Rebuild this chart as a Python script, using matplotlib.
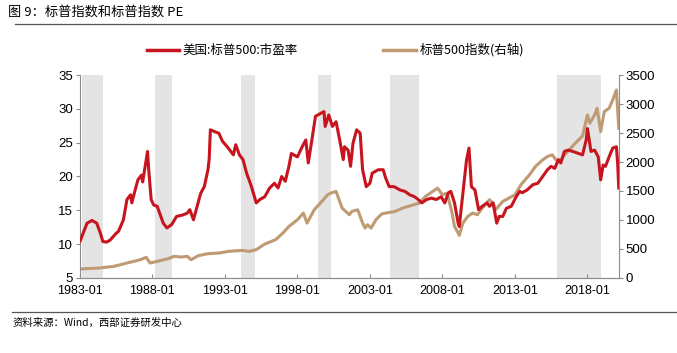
import pandas as pd
import matplotlib.pyplot as plt

plt.rcParams['font.family'] = ['Liberation Sans', 'Noto Sans CJK SC', 'DejaVu Sans']

# 美国:标普500:市盈率 (左轴)
pe_dates = ["1983-01", "1983-07", "1983-11", "1984-03", "1984-06", "1984-08", "1984-11", "1985-02",
            "1985-07", "1985-09", "1986-01", "1986-04", "1986-07", "1986-08", "1986-10", "1987-01",
            "1987-04", "1987-05", "1987-08", "1987-09", "1987-10", "1987-12", "1988-02", "1988-05",
            "1988-07", "1988-10", "1989-01", "1989-05", "1989-09", "1990-02", "1990-06", "1990-08",
            "1990-11", "1991-02", "1991-05", "1991-08", "1991-11", "1991-12", "1992-01", "1992-05",
            "1992-08", "1992-11", "1993-03", "1993-08", "1993-10", "1994-01", "1994-04", "1994-07",
            "1994-11", "1995-03", "1995-06", "1995-10", "1996-02", "1996-06", "1996-09", "1996-12",
            "1997-03", "1997-06", "1997-08", "1998-01", "1998-05", "1998-08", "1998-10", "1999-01",
            "1999-04", "1999-08", "1999-11", "1999-12", "2000-03", "2000-06", "2000-09", "2000-12",
            "2001-03", "2001-04", "2001-07", "2001-09", "2001-11", "2002-02", "2002-05", "2002-07",
            "2002-10", "2003-01", "2003-03", "2003-08", "2003-12", "2004-02", "2004-05", "2004-09",
            "2005-02", "2005-06", "2005-10", "2006-02", "2006-05", "2006-08", "2006-12", "2007-04",
            "2007-08", "2007-12", "2008-03", "2008-06", "2008-08", "2008-11", "2009-02", "2009-03",
            "2009-06", "2009-09", "2009-11", "2010-01", "2010-04", "2010-07", "2010-10", "2011-02",
            "2011-04", "2011-07", "2011-10", "2011-12", "2012-03", "2012-06", "2012-10", "2013-02",
            "2013-05", "2013-07", "2013-11", "2014-04", "2014-08", "2014-12", "2015-04", "2015-07",
            "2015-10", "2016-01", "2016-03", "2016-06", "2016-09", "2017-01", "2017-06", "2017-09",
            "2017-12", "2018-01", "2018-04", "2018-07", "2018-10", "2018-12", "2019-02", "2019-04",
            "2019-07", "2019-10", "2020-01", "2020-02", "2020-03"]
pe_values = [10.4, 13.1, 13.5, 13.1, 11.6, 10.4, 10.3, 10.6,
             11.6, 11.9, 13.6, 16.6, 17.3, 16.1, 17.5, 19.5,
             20.2, 19.2, 22.5, 23.7, 21.0, 16.6, 15.8, 15.6,
             14.6, 13.1, 12.4, 12.9, 14.1, 14.3, 14.6, 15.1,
             13.6, 15.6, 17.5, 18.5, 21.0, 22.5, 26.9, 26.6,
             26.4, 25.2, 24.4, 23.2, 24.7, 23.2, 22.5, 20.5,
             18.5, 16.1, 16.6, 17.0, 18.3, 19.0, 18.3, 20.0,
             19.3, 21.5, 23.4, 22.9, 24.4, 25.4, 22.0, 25.4,
             28.9, 29.3, 29.6, 27.4, 29.1, 27.4, 28.1, 25.4,
             22.5, 24.4, 23.9, 21.5, 24.9, 26.9, 26.4, 21.0,
             18.5, 19.0, 20.5, 21.0, 21.0, 19.8, 18.5, 18.5,
             18.0, 17.8, 17.3, 17.0, 16.6, 16.1, 16.6, 16.8,
             16.6, 17.0, 16.1, 17.6, 17.8, 16.1, 13.1, 12.6,
             17.6, 22.5, 24.2, 18.5, 18.0, 15.1, 15.6, 16.1,
             15.6, 16.1, 13.1, 14.1, 14.1, 15.3, 15.6, 17.0,
             17.8, 17.6, 18.0, 18.8, 19.0, 20.0, 21.0, 21.5,
             21.2, 22.5, 22.0, 23.7, 23.9, 23.7, 23.4, 23.2,
             25.4, 27.1, 23.7, 23.9, 22.9, 19.5, 21.7, 21.5,
             22.9, 24.2, 24.4, 22.0, 18.3]

# 标普500指数 (右轴)
idx_dates = ["1983-01", "1984-05", "1985-05", "1986-04", "1987-03", "1987-08", "1987-11", "1988-05",
             "1989-02", "1989-07", "1990-01", "1990-06", "1990-09", "1991-03", "1991-11", "1992-08",
             "1993-04", "1994-03", "1994-09", "1995-03", "1995-10", "1996-07", "1997-01", "1997-06",
             "1998-01", "1998-06", "1998-09", "1999-03", "1999-08", "2000-02", "2000-06", "2000-09",
             "2001-02", "2001-08", "2001-10", "2002-03", "2002-07", "2002-09", "2002-11", "2003-02",
             "2003-06", "2003-11", "2004-05", "2004-10", "2005-04", "2006-01", "2006-06", "2006-11",
             "2007-05", "2007-09", "2008-01", "2008-05", "2008-09", "2008-11", "2009-02", "2009-03",
             "2009-06", "2009-10", "2010-02", "2010-06", "2010-10", "2011-04", "2011-07", "2011-09",
             "2012-03", "2012-08", "2013-01", "2013-06", "2014-01", "2014-06", "2014-12", "2015-04",
             "2015-08", "2015-11", "2016-02", "2016-05", "2016-10", "2017-03", "2017-09", "2018-01",
             "2018-03", "2018-07", "2018-09", "2018-12", "2019-03", "2019-07", "2019-10", "2020-01",
             "2020-03"]
idx_values = [155, 172, 200, 258, 315, 356, 258, 287,
              333, 373, 361, 373, 315, 384, 419, 430,
              459, 476, 459, 488, 585, 660, 775, 889,
              1004, 1119, 947, 1176, 1291, 1435, 1475, 1492,
              1205, 1090, 1148, 1176, 947, 861, 918, 861,
              1004, 1107, 1130, 1148, 1205, 1262, 1291, 1406,
              1492, 1549, 1435, 1463, 1119, 889, 775, 735,
              947, 1062, 1119, 1090, 1205, 1348, 1291, 1176,
              1320, 1377, 1435, 1607, 1779, 1922, 2037, 2094,
              2123, 2037, 2008, 2094, 2209, 2324, 2450, 2812,
              2668, 2812, 2926, 2525, 2869, 2926, 3070, 3242,
              2582]

# 阴影区间
shade_start = ["1983-03", "1988-03", "1994-02", "1999-06", "2004-06", "2015-12"]
shade_end = ["1984-08", "1989-05", "1995-02", "2000-05", "2006-06", "2018-12"]

tick_labels = ["1983-01", "1988-01", "1993-01", "1998-01", "2003-01", "2008-01", "2013-01", "2018-01"]

red = '#C8141E'
tan = '#BF9A72'
axis_gray = '#8C8C8C'

fig = plt.figure(figsize=(6.77, 3.53), dpi=100)
ax = fig.add_axes([0.118, 0.2125, 0.796, 0.575])
ax2 = ax.twinx()

# 阴影和指数画在下层的ax2, 市盈率画在上层的ax
for s, e in zip(shade_start, shade_end):
    ax2.axvspan(pd.Timestamp(s), pd.Timestamp(e), color='#E4E4E4', lw=0, zorder=0)
ax2.plot(pd.to_datetime(idx_dates), idx_values, color=tan, lw=2.2, zorder=2)
ax.plot(pd.to_datetime(pe_dates), pe_values, color=red, lw=2.2, zorder=3)
ax.set_zorder(1)
ax2.set_zorder(0)
ax.patch.set_visible(False)

ax.set_xlim(pd.Timestamp("1983-01"), pd.Timestamp("2020-03"))
ax.set_ylim(5, 35)
ax2.set_ylim(0, 3500)
ax.set_yticks(range(5, 36, 5))
ax2.set_yticks(range(0, 3501, 500))
ax.set_xticks(pd.to_datetime(tick_labels))
ax.set_xticklabels(tick_labels)

for a in (ax, ax2):
    a.spines['top'].set_visible(False)
    for sp in ('left', 'right', 'bottom'):
        a.spines[sp].set_color(axis_gray)
    a.tick_params(axis='y', length=3, color=axis_gray, labelsize=9.5, pad=2)
ax.spines['right'].set_visible(False)
ax2.spines['left'].set_visible(False)
ax.tick_params(axis='x', direction='in', length=3, color=axis_gray, labelsize=9, pad=5)

# 图例
fig.legend(handles=[plt.Line2D([], [], color=red, lw=2.5), plt.Line2D([], [], color=tan, lw=2.5)],
           labels=['美国:标普500:市盈率', '标普500指数(右轴)'],
           loc='center left', bbox_to_anchor=(0.2, 0.858), ncol=2, frameon=False,
           handlelength=2.6, handletextpad=0.3, columnspacing=6.8,
           prop={'family': ['Noto Sans CJK SC', 'DejaVu Sans'], 'size': 9})

fig.text(0.012, 0.965, '图 9：标普指数和标普指数 PE', fontsize=9.5, va='center',
         family=['Noto Sans CJK SC', 'DejaVu Sans'])
fig.add_artist(plt.Line2D([0.022, 1.0], [0.933, 0.933], color='#555555', lw=0.9))
fig.add_artist(plt.Line2D([0.018, 1.0], [0.117, 0.117], color='#555555', lw=0.9))
fig.text(0.018, 0.085, '资料来源：Wind，西部证券研发中心', fontsize=7.5, va='center',
         family=['Noto Sans CJK SC', 'DejaVu Sans'])

fig.savefig('out.png', dpi=100)
